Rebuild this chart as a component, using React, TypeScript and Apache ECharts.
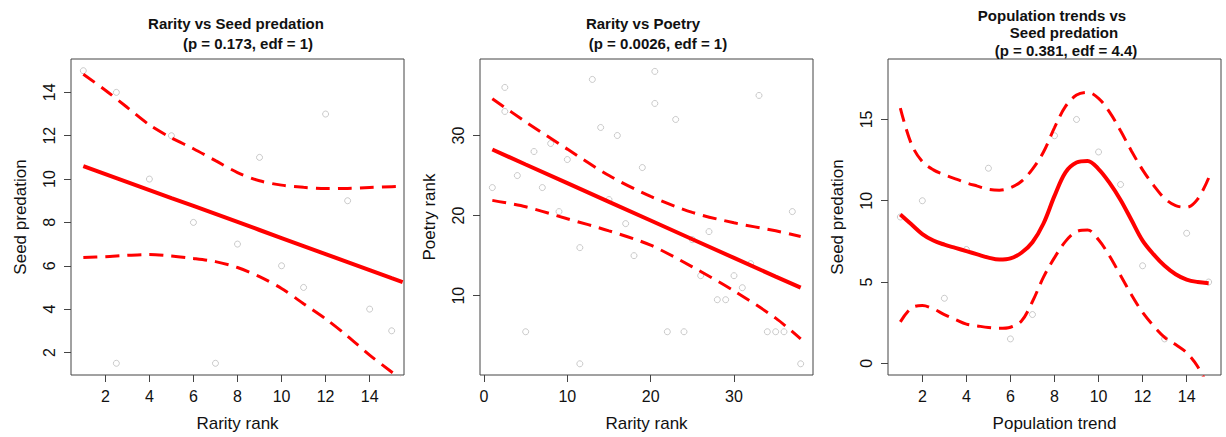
import React, { useEffect, useRef } from "react";
import * as echarts from "echarts";

// Panel 1: Rarity vs Seed predation
const p1RarityRank = [1, 2.5, 2.5, 4, 5, 6, 7, 8, 9, 10, 11, 12, 13, 14, 15];
const p1SeedPredation = [15, 14, 1.5, 10, 12, 8, 1.5, 7, 11, 6, 5, 13, 9, 4, 3];
const p1FitX = [1, 2, 3, 4, 5, 6, 7, 8, 9, 10, 11, 12, 13, 14, 15, 15.5];
const p1Fit = [10.6, 10.23, 9.86, 9.49, 9.12, 8.76, 8.39, 8.02, 7.65, 7.28, 6.91, 6.54, 6.17, 5.8, 5.43, 5.25];
const p1Upper = [14.84, 14.1, 13.3, 12.5, 11.9, 11.4, 10.85, 10.3, 9.92, 9.72, 9.62, 9.56, 9.57, 9.61, 9.65, 9.67];
const p1Lower = [6.38, 6.42, 6.48, 6.52, 6.45, 6.34, 6.19, 5.92, 5.5, 4.95, 4.25, 3.55, 2.75, 1.88, 1.1, 0.72];

// Panel 2: Rarity vs Poetry
const p2RarityRank = [1, 2.5, 2.5, 4, 5, 6, 7, 8, 9, 10, 11.5, 11.5, 13, 14, 15, 16, 17, 18, 19, 20.5, 20.5, 22, 23, 24, 25, 26, 27, 28, 29, 30, 31, 32, 33, 34, 35, 36, 37, 38];
const p2PoetryRank = [23.5, 36, 33, 25, 5.5, 28, 23.5, 29, 20.5, 27, 16, 1.5, 37, 31, 22, 30, 19, 15, 26, 38, 34, 5.5, 32, 5.5, 17, 12.5, 18, 9.5, 9.5, 12.5, 11, 14, 35, 5.5, 5.5, 5.5, 20.5, 1.5];
const p2FitX = [1, 5, 10, 15, 20, 25, 30, 35, 38];
const p2Fit = [28.25, 26.38, 24.05, 21.72, 19.39, 17.05, 14.72, 12.39, 11.0];
const p2Upper = [34.6, 31.7, 28.3, 25.0, 22.4, 20.4, 19.1, 18.1, 17.4];
const p2Lower = [21.9, 21.1, 19.6, 18.1, 16.3, 13.6, 10.6, 7.2, 4.6];

// Panel 3: Population trends vs Seed predation
const p3PopTrend = [1, 2, 3, 4, 5, 6, 7, 8, 9, 10, 11, 12, 13, 14, 15];
const p3SeedPredation = [9, 10, 4, 7, 12, 1.5, 3, 14, 15, 13, 11, 6, 1.5, 8, 5];
const p3FitX = [1, 1.5, 2, 2.5, 3, 3.5, 4, 4.5, 5, 5.5, 6, 6.5, 7, 7.5, 8, 8.5, 9, 9.5, 10, 10.5, 11, 11.5, 12, 12.5, 13, 13.5, 14, 14.5, 15];
const p3Fit = [9.15, 8.55, 7.95, 7.55, 7.3, 7.1, 6.9, 6.7, 6.5, 6.38, 6.45, 6.8, 7.45, 8.6, 10.3, 11.75, 12.35, 12.45, 11.95, 11.1, 10.05, 8.8, 7.55, 6.7, 6.0, 5.48, 5.15, 5.0, 4.93];
const p3Upper = [15.7, 13.5, 12.4, 11.9, 11.6, 11.35, 11.1, 10.9, 10.7, 10.65, 10.8, 11.2, 11.95, 13.0, 14.5, 15.8, 16.5, 16.67, 16.3, 15.45, 14.3, 13.05, 11.9, 10.95, 10.15, 9.7, 9.6, 10.1, 11.4];
const p3Lower = [2.55, 3.4, 3.55, 3.35, 3.0, 2.7, 2.41, 2.3, 2.2, 2.15, 2.22, 2.6, 3.8, 5.3, 6.5, 7.5, 8.1, 8.2, 7.6, 6.6, 5.4, 4.2, 3.13, 2.3, 1.6, 1.15, 0.65, -0.2, -1.5];

// Tick labels
const p1XTicks = [2, 4, 6, 8, 10, 12, 14];
const p1YTicks = [2, 4, 6, 8, 10, 12, 14];
const p2XTicks = [0, 10, 20, 30];
const p2YTicks = [10, 20, 30];
const p3XTicks = [2, 4, 6, 8, 10, 12, 14];
const p3YTicks = [0, 5, 10, 15];

const FONT = "'Liberation Sans', Arial, sans-serif";
const AXIS_COLOR = "#444";
const TEXT_COLOR = "#111";

function zip(xs: number[], ys: number[]) {
  return xs.map((x, i) => [x, ys[i]]);
}

function makeXAxis(idx: number, min: number, max: number, ticks: number[], name: string) {
  return {
    type: "value",
    gridIndex: idx,
    min,
    max,
    name,
    nameLocation: "middle",
    nameGap: 40,
    nameTextStyle: { fontSize: 17, fontFamily: FONT, color: TEXT_COLOR },
    splitLine: { show: false },
    axisLine: { show: false, onZero: false },
    axisTick: { show: true, length: 7, inside: false, customValues: ticks, lineStyle: { color: AXIS_COLOR } },
    axisLabel: { customValues: ticks, fontSize: 16, fontFamily: FONT, color: TEXT_COLOR, margin: 13 },
  };
}

function makeYAxis(idx: number, min: number, max: number, ticks: number[], name: string) {
  return {
    type: "value",
    gridIndex: idx,
    min,
    max,
    name,
    nameLocation: "middle",
    nameGap: 42,
    nameTextStyle: { fontSize: 17, fontFamily: FONT, color: TEXT_COLOR },
    splitLine: { show: false },
    axisLine: { show: false, onZero: false },
    axisTick: { show: true, length: 7, inside: false, customValues: ticks, lineStyle: { color: AXIS_COLOR } },
    axisLabel: { customValues: ticks, rotate: 90, fontSize: 16, fontFamily: FONT, color: TEXT_COLOR, margin: 14 },
  };
}

function scatter(idx: number, xs: number[], ys: number[]) {
  return {
    type: "scatter",
    xAxisIndex: idx,
    yAxisIndex: idx,
    data: zip(xs, ys),
    symbol: "circle",
    symbolSize: 6,
    itemStyle: { color: "rgba(255,255,255,0)", borderColor: "#bdbdbd", borderWidth: 1 },
    silent: true,
    z: 2,
  };
}

function line(idx: number, xs: number[], ys: number[], dashed: boolean, smooth: number | boolean) {
  return {
    type: "line",
    xAxisIndex: idx,
    yAxisIndex: idx,
    data: zip(xs, ys),
    showSymbol: false,
    symbol: "none",
    smooth,
    clip: true,
    silent: true,
    lineStyle: dashed
      ? { color: "#ff0000", width: 3, type: [14, 8], cap: "butt" }
      : { color: "#ff0000", width: 4 },
    z: 3,
  };
}

function titleText(text: string, x: number, y: number) {
  return {
    type: "text",
    x,
    y,
    style: {
      text,
      fill: TEXT_COLOR,
      fontSize: 15,
      fontWeight: "bold",
      fontFamily: FONT,
      align: "center",
      verticalAlign: "middle",
      textAlign: "center",
      textVerticalAlign: "middle",
    },
  };
}

export default function App() {
  const ref = useRef<HTMLDivElement>(null);
  useEffect(() => {
    if (!ref.current) return;
    const chart = echarts.init(ref.current, undefined, { renderer: "svg" });
    const gridBase = { top: 59, height: 317, width: 333, show: true, borderColor: AXIS_COLOR, borderWidth: 1, backgroundColor: "transparent", containLabel: false };
    chart.setOption({
      animation: false,
      backgroundColor: "#ffffff",
      grid: [
        { ...gridBase, left: 71 },
        { ...gridBase, left: 480 },
        { ...gridBase, left: 888 },
      ],
      xAxis: [
        makeXAxis(0, 0.44, 15.56, p1XTicks, "Rarity rank"),
        makeXAxis(1, -0.48, 39.48, p2XTicks, "Rarity rank"),
        makeXAxis(2, 0.44, 15.56, p3XTicks, "Population trend"),
      ],
      yAxis: [
        makeYAxis(0, 0.96, 15.54, p1YTicks, "Seed predation"),
        makeYAxis(1, 0.1, 39.55, p2YTicks, "Poetry rank"),
        makeYAxis(2, -0.72, 18.72, p3YTicks, "Seed predation"),
      ],
      graphic: [
        titleText("Rarity vs Seed predation", 236, 23),
        titleText("(p = 0.173, edf = 1)", 248, 43),
        titleText("Rarity vs Poetry", 643, 23),
        titleText("(p = 0.0026, edf = 1)", 658, 43),
        titleText("Population trends vs", 1052, 15),
        titleText("Seed predation", 1064, 32),
        titleText("(p = 0.381, edf = 4.4)", 1066, 50),
      ],
      series: [
        scatter(0, p1RarityRank, p1SeedPredation),
        line(0, p1FitX, p1Fit, false, false),
        line(0, p1FitX, p1Upper, true, 0.3),
        line(0, p1FitX, p1Lower, true, 0.3),
        scatter(1, p2RarityRank, p2PoetryRank),
        line(1, p2FitX, p2Fit, false, false),
        line(1, p2FitX, p2Upper, true, 0.3),
        line(1, p2FitX, p2Lower, true, 0.3),
        scatter(2, p3PopTrend, p3SeedPredation),
        line(2, p3FitX, p3Fit, false, 0.35),
        line(2, p3FitX, p3Upper, true, 0.35),
        line(2, p3FitX, p3Lower, true, 0.35),
      ],
    });
    return () => chart.dispose();
  }, []);
  return (
    <div
      ref={ref}
      style={{ position: "fixed", left: 0, top: 0, width: 1226, height: 437 }}
    />
  );
}
